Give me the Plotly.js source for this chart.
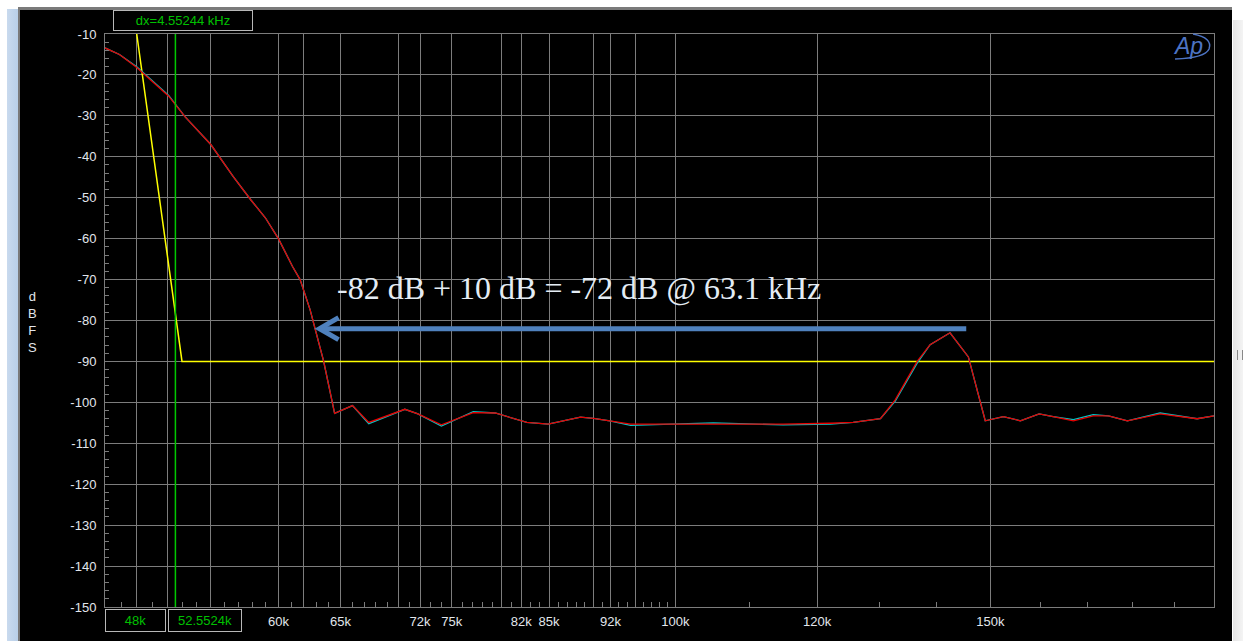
<!DOCTYPE html>
<html>
<head>
<meta charset="utf-8">
<script src="https://cdn.plot.ly/plotly-3.0.1.min.js"></script>
<style>
  html, body { margin: 0; padding: 0; background: #ffffff; width: 1243px; height: 641px; overflow: hidden; }
  #leftstrip { position: absolute; left: 7px; top: 9px; width: 11px; height: 632px; background: linear-gradient(to right, #c9daee, #b9cfe8); }
  #frame { position: absolute; left: 18px; top: 7px; width: 1214px; height: 634px; background: #7a7a7a; }
  #chart { position: absolute; left: 20px; top: 10px; width: 1212px; height: 631px; background: #000; }
  #rightstrip { position: absolute; left: 1233px; top: 20px; width: 10px; height: 621px; background: linear-gradient(to right, #e4e4e4, #f4f4f4); }
  #grip { position: absolute; left: 1237px; top: 350px; width: 4px; height: 10px; border-left: 1px solid #888; border-right: 1px solid #888; }
</style>
</head>
<body>
<div id="leftstrip"></div>
<div id="frame"></div>
<div id="chart"></div>
<div id="rightstrip"></div>
<div id="grip"></div>
<script>
// ---- data (frequency in kHz, level in dBFS) ----
const redKHz = [48.0, 48.9, 50.0, 52.1, 53.2, 55.0, 56.6, 57.9, 59.0, 60.0, 61.1, 61.7, 62.5, 62.9, 63.6, 64.5, 66.0, 67.4, 70.6, 71.8, 74.0, 77.1, 79.3, 82.6, 84.9, 88.5, 90.0, 91.9, 94.4, 105.0, 114.9, 122.1, 125.7, 130.2, 132.7, 136.5, 138.8, 142.4, 145.8, 149.0, 152.5, 155.9, 159.7, 162.6, 166.9, 171.2, 174.6, 178.9, 186.6, 195.7, 200.0];
const redDb = [-13.4, -15.0, -18.2, -25.2, -30.2, -37.0, -44.8, -50.5, -54.9, -60.0, -66.8, -70.0, -77.4, -81.8, -90.0, -102.7, -100.8, -104.9, -101.7, -102.8, -105.5, -102.5, -102.6, -104.9, -105.3, -103.6, -103.9, -104.5, -105.3, -105.3, -105.3, -105.1, -104.9, -104.0, -99.4, -90.0, -85.9, -83.0, -88.9, -104.5, -103.5, -104.5, -102.8, -103.5, -104.5, -103.3, -103.3, -104.5, -102.8, -104.0, -103.3];
const cyanKHz = redKHz;
const cyanDb = [-13.4, -15.0, -18.0, -25.0, -30.2, -37.0, -44.8, -50.5, -54.9, -60.0, -66.8, -70.0, -77.4, -81.8, -90.0, -102.7, -100.8, -105.2, -101.7, -102.8, -105.8, -102.3, -102.6, -104.9, -105.3, -103.6, -103.9, -104.5, -105.6, -105.0, -105.5, -105.3, -104.9, -104.0, -99.7, -90.4, -85.9, -83.0, -88.9, -104.5, -103.5, -104.5, -102.8, -103.5, -104.2, -103.0, -103.3, -104.5, -102.6, -104.0, -103.3];
const yellowKHz = [50.0, 53.0, 200.0];
const yellowDb = [-10, -90, -90];

// cursors (kHz)
const cursorKHz = [48, 52.5524];
const cursorLabels = ['48k', '52.5524k'];
const cursorDelta = 'dx=4.55244 kHz';

// annotation arrow (kHz, dB)
const arrowTipKHz = 63.1;
const arrowTailKHz = 145.4;
const arrowDb = -82;
const noteText = '-82 dB + 10 dB = -72 dB @ 63.1 kHz';

// axes
const xTickVals = [50, 52, 55, 60, 62, 65, 70, 72, 75, 80, 82, 85, 90, 92, 95, 100, 120, 150, 200];
const xTickText = ['', '', '', '60k', '', '65k', '', '72k', '75k', '', '82k', '85k', '', '92k', '', '100k', '120k', '150k', ''];
const xMinorVals = [49, 51, 53, 54, 56, 57, 58, 59, 61, 63, 64, 66, 67, 68, 69, 71, 73, 74, 76, 77, 78, 79, 81, 83, 84, 86, 87, 88, 89, 91, 93, 94, 96, 97, 98, 99, 110, 130, 140, 160, 170, 180, 190];
const yTickVals = [-10, -20, -30, -40, -50, -60, -70, -80, -90, -100, -110, -120, -130, -140, -150];
const yTickText = ['-10', '-20', '-30', '-40', '-50', '-60', '-70', '-80', '-90', '-100', '-110', '-120', '-130', '-140', '-150'];

const traces = [
  { x: yellowKHz, y: yellowDb, type: 'scatter', mode: 'lines', line: { color: '#ffff00', width: 1.5 }, hoverinfo: 'skip' },
  { x: cyanKHz, y: cyanDb, type: 'scatter', mode: 'lines', line: { color: '#00c8c8', width: 1.3 }, hoverinfo: 'skip' },
  { x: redKHz, y: redDb, type: 'scatter', mode: 'lines', line: { color: '#e80000', width: 1.3 }, hoverinfo: 'skip' }
];

const gridC = '#7c7c7c';
const labelFont = { family: 'Liberation Sans, Arial, sans-serif', size: 13, color: '#e2e6ec' };
const greenFont = { family: 'Liberation Sans, Arial, sans-serif', size: 13, color: '#00c000' };

function ann(o) { return Object.assign({ xref: 'paper', yref: 'paper', showarrow: false, xanchor: 'center', yanchor: 'middle' }, o); }

const layout = {
  width: 1212, height: 631,
  margin: { l: 85, r: 18, t: 24, b: 34, pad: 0 },
  paper_bgcolor: '#000000', plot_bgcolor: '#000000',
  showlegend: false,
  xaxis: {
    type: 'log', range: [Math.log10(48), Math.log10(200)],
    tickmode: 'array', tickvals: xTickVals, ticktext: xTickText,
    showgrid: true, gridcolor: gridC, gridwidth: 1,
    ticks: '', tickfont: labelFont, ticklabelstandoff: 2,
    showline: true, linecolor: gridC, linewidth: 1, mirror: true,
    zeroline: false, fixedrange: true,
    minor: { tickvals: xMinorVals, ticks: 'inside', ticklen: 5, tickcolor: gridC, tickwidth: 1, showgrid: false }
  },
  yaxis: {
    range: [-150, -10],
    tickmode: 'array', tickvals: yTickVals, ticktext: yTickText,
    showgrid: true, gridcolor: gridC, gridwidth: 1,
    ticks: 'inside', ticklen: 5, tickcolor: gridC, tickfont: labelFont, ticklabelstandoff: 5,
    showline: true, linecolor: gridC, linewidth: 1, mirror: true,
    zeroline: false, fixedrange: true,
    minor: { dtick: 2, ticks: 'inside', ticklen: 4, tickcolor: gridC, tickwidth: 1, showgrid: false }
  },
  shapes: [
    { type: 'line', xref: 'x', yref: 'paper', x0: cursorKHz[1], x1: cursorKHz[1], y0: 0, y1: 1, line: { color: '#00c800', width: 1.5 } },
    { type: 'line', xref: 'x', yref: 'y', x0: arrowTipKHz * 1.004, x1: arrowTailKHz, y0: arrowDb, y1: arrowDb, line: { color: '#4f81bd', width: 5 } },
    { type: 'path', xref: 'x', yref: 'y', xsizemode: 'pixel', ysizemode: 'pixel', xanchor: arrowTipKHz, yanchor: arrowDb,
      path: 'M 21 11 L 2 0 L 21 -11', line: { color: '#4f81bd', width: 5 } },
    { type: 'path', xref: 'paper', yref: 'paper', xsizemode: 'pixel', ysizemode: 'pixel', xanchor: 0.9793, yanchor: 0.9791,
      path: 'M 2 12 Q 22 8 18 -3 Q 14 -12 -16 -13', line: { color: '#4d74c4', width: 1.5 } }
  ],
  annotations: [
    ann({ x: -0.0658, y: 0.4974, text: 'd<br>B<br>F<br>S',
      font: { family: 'Liberation Sans, Arial, sans-serif', size: 13, color: '#e2e6ec' }, align: 'center' }),
    ann({ x: 0.0703, y: 1.0236, text: cursorDelta,
      font: greenFont, bordercolor: '#b8b8b8', borderwidth: 1, borderpad: 1, width: 136, height: 17, bgcolor: '#000' }),
    ann({ x: 0.0275, y: -0.0236, text: cursorLabels[0],
      font: greenFont, bordercolor: '#b8b8b8', borderwidth: 1, borderpad: 1, width: 57, height: 19, bgcolor: '#000' }),
    ann({ x: 0.0902, y: -0.0236, text: cursorLabels[1],
      font: greenFont, bordercolor: '#b8b8b8', borderwidth: 1, borderpad: 1, width: 70, height: 19, bgcolor: '#000' }),
    ann({ x: 0.4274, y: 0.5570, text: noteText,
      font: { family: 'Liberation Serif, Times New Roman, serif', size: 32, color: '#e4ecf4' } }),
    ann({ x: 0.9770, y: 0.9791, text: '<i>Ap</i>',
      font: { family: 'Liberation Sans, Arial, sans-serif', size: 23, color: '#4d74c4' } })
  ]
};

Plotly.newPlot('chart', traces, layout, { displayModeBar: false, staticPlot: true });
</script>
</body>
</html>
